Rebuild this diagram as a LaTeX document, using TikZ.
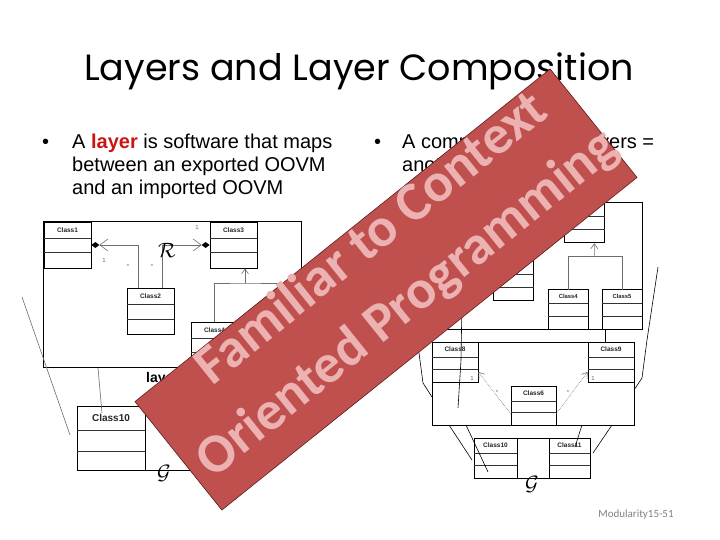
\documentclass[tikz,border=0pt]{standalone}
\usepackage{fontspec}
\setmainfont{Liberation Sans}
\newfontfamily\titlefont{Poppins}
\newfontfamily\banfont{Carlito}
\usetikzlibrary{arrows.meta}
\definecolor{banred}{RGB}{192,80,77}
\definecolor{banpink}{RGB}{236,178,178}
\definecolor{banedge}{RGB}{90,30,30}
\definecolor{layred}{RGB}{204,20,20}
\definecolor{conngray}{RGB}{110,110,110}
\newcommand\umlcls[8]{%
  \node[clsbox, minimum width={#4-#2}, minimum height={#5-#3}] (#1) at ({(#2+#4)/2},{(#3+#5)/2}) {};
  \draw[clsline] (#2,#6) -- (#4,#6) (#2,#7) -- (#4,#7);
  \node[clslabel] (#1t) at ({(#2+#4)/2},{(#3+#6)/2}) {#8};}
\newcommand\layerdiagram{%
  \node[framebox, minimum width=258, minimum height=146] (frame) at (129,73) {};
  \umlcls{c1}{1}{1}{48}{47}{17}{31}{Class1}
  \umlcls{c3}{167}{1}{214}{47}{17}{31}{Class3}
  \umlcls{c2}{84}{67}{131}{113}{83}{98}{Class2}
  \umlcls{c4}{148}{101}{195}{146}{117}{131}{Class4}
  \umlcls{c5}{211}{101}{258}{146}{117}{131}{Class5}
  \coordinate (d1) at ([xshift=8]c1.east);
  \coordinate (d3) at ([xshift=-8]c3.west);
  \fill (c1.east) -- ++(4,-3) -- ++(4,3) -- ++(-4,3) -- cycle;
  \fill (c3.west) -- ++(-4,-3) -- ++(-4,3) -- ++(4,3) -- cycle;
  \draw[conn,-{Straight Barb[length=8pt,width=12pt]}] ([xshift=-12.5]c2.north) |- (d1);
  \draw[conn,-{Straight Barb[length=8pt,width=12pt]}] ([xshift=11.5]c2.north) |- (d3);
  \node[small] (m1) at (61,39) {1};
  \node[small] (m2) at (85,45) {*};
  \node[small] (m3) at (109,45) {*};
  \node[small] (m4) at (154,6) {1};
  \node (rr) at (124,29) {\fontsize{22}{22}\selectfont$\mathcal{R}$};
  \coordinate (gen) at (202,62);
  \draw[conn] (c4.north) |- (gen) -| (c5.north);
  \draw[conn,-{Straight Barb[length=5pt,width=7pt]}] (gen) -- ([xshift=11.5]c3.south);
}
\tikzset{
  clsbox/.style={draw=black, line width=0.8pt, fill=white, inner sep=0pt, transform shape},
  framebox/.style={draw=black, line width=0.8pt, inner sep=0pt, transform shape},
  clsline/.style={draw=black!80, line width=0.8pt},
  clslabel/.style={font=\bfseries\fontsize{6.5}{7}\selectfont, text=black!85, inner sep=0pt},
  conn/.style={draw=conngray, line width=0.6pt},
  thin line/.style={draw=black, line width=0.6pt},
  small/.style={font=\fontsize{6}{6}\selectfont, text=black!60, inner sep=0pt},
  bullet/.style={font=\fontsize{20}{23}\selectfont, inner sep=0pt, anchor=base west},
  bantext/.style={text=banpink, font=\banfont\bfseries\fontsize{55}{60}\selectfont, inner sep=0pt, anchor=base, rotate=38.7},
}
\begin{document}
\begin{tikzpicture}[x=1pt,y=-1pt]
\useasboundingbox (0,0) rectangle (720,540);
\fill[white] (0,0) rectangle (720,540);
% title
\node[font=\titlefont\fontsize{36.5}{40}\selectfont, inner sep=0pt, anchor=base] (title) at (359,81) {Layers and Layer Composition};
% bullets
\node[bullet] (b1) at (42,149) {•};
\node[bullet] (t1a) at (72,149) {A \textcolor{layred}{\bfseries layer} is software that maps};
\node[bullet] (t1b) at (72,172) {between an exported OOVM};
\node[bullet] (t1c) at (72,195) {and an imported OOVM};
\node[bullet] (b2) at (374,149) {•};
\node[bullet] (t2a) at (402,149) {\makebox[252pt][l]{A composition of\hfill layers =}};
\node[bullet] (t2b) at (402,172) {another layer};
% left layer diagram
\begin{scope}[shift={(43,221)}]
  \layerdiagram
\end{scope}
\node[font=\bfseries\fontsize{14}{14}\selectfont, anchor=base west, inner sep=0pt] (lay) at (146,382) {layer};
\draw[conn] (22,297) -- (70,435);
\coordinate (lt) at (98,368);
\node[framebox, minimum width=183, minimum height=64] (gl) at (168.5,438) {};
\umlcls{l10}{77}{406}{145}{470}{430}{451}{\fontsize{10}{10}\selectfont Class10}
\umlcls{l11}{192}{406}{260}{470}{430}{451}{\fontsize{10}{10}\selectfont Class11}
\draw[conn] (lt) -- (102,413);
\node (gcalL) at (164,473) {\fontsize{22}{22}\selectfont$\mathcal{G}$};
% right upper layer diagram
\begin{scope}[shift={(422,202)}, xscale=0.853, yscale=0.87, name prefix=R-, clslabel/.append style={scale=0.9}]
  \layerdiagram
\end{scope}
% right lower frame
\node[framebox, minimum width=202, minimum height=83] (rf) at (533,383.5) {};
\umlcls{c8}{432}{342}{478}{382}{357}{369}{Class8}
\umlcls{c9}{588}{342}{634}{382}{357}{369}{Class9}
\umlcls{c6}{511}{386}{556}{425}{401}{412}{Class6}
\draw[conn, densely dotted, -{Straight Barb[length=5pt,width=7pt]}] ([yshift=-8]c6.west) -- ([yshift=-10]c8.east);
\draw[conn, densely dotted, -{Straight Barb[length=5pt,width=7pt]}] ([yshift=-8]c6.east) -- ([yshift=-10]c9.west);
\node[small] (r1) at (472,378) {1};
\node[small] (r2) at (593,378) {1};
\node[small] (r3) at (497,392) {*};
\node[small] (r4) at (568,392) {*};
\draw[thin line] (605,329) -- (605,342);
\draw[thin line] (462,300) -- (461,360) -- (458,408);
\draw[thin line] (410,320) -- (419,353) -- (423,383) -- (432,397);
\draw[thin line] (658,267) -- (647,340) -- (642,378) -- (634,390);
% right G box
\node[framebox, minimum width=116, minimum height=40] (gr) at (532,458) {};
\umlcls{r10}{474}{438}{517}{478}{453}{465}{Class10}
\umlcls{r11}{549}{438}{590}{478}{453}{465}{Class11}
\draw[thin line] (449,425) -- (472,460);
\draw[thin line] (466,425) -- (488,472);
\draw[thin line] (582,425) -- (575,447);
\draw[thin line] (612,425) -- (593,453);
\node (gcalR) at (532,484) {\fontsize{22}{22}\selectfont$\mathcal{G}$};
% footer
\node[font=\banfont\fontsize{11}{11}\selectfont, text=black!50, inner sep=0pt] (foot) at (636,515) {Modularity15-51};
% banner
\node[fill=banred, draw=banedge, line width=0.6pt, rotate=38.7, minimum width=532, minimum height=139, inner sep=0pt] (banner) at (386,289.5) {};
\node[bantext] (ban1) at (381.6,250.7) {Familiar to Context};
\node[bantext] (ban2) at (417.3,315.7) {Oriented Programming};
\end{tikzpicture}
\end{document}
